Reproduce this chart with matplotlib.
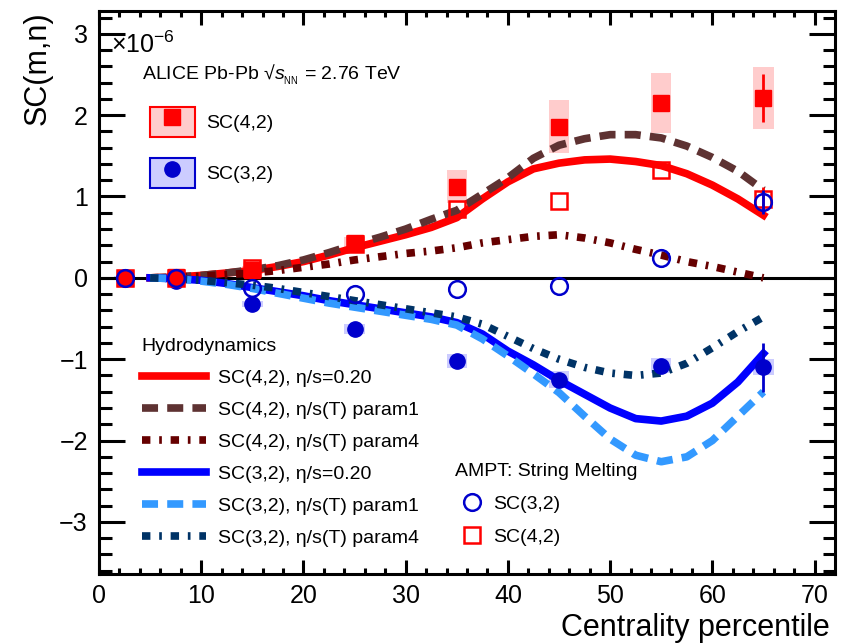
import numpy as np
import matplotlib.pyplot as plt
from matplotlib.lines import Line2D
from matplotlib.patches import Patch

plt.rcParams['font.family'] = ['Liberation Sans', 'DejaVu Sans']
plt.rcParams['mathtext.fontset'] = 'custom'
plt.rcParams['mathtext.rm'] = 'Liberation Sans'
plt.rcParams['mathtext.it'] = 'Liberation Sans:italic'

# centrality bin centres (%)
cent = [2.5, 7.5, 15, 25, 35, 45, 55, 65]

# ALICE data, in units of 1e-6
sc42 = [0.0, 0.01, 0.10, 0.43, 1.12, 1.86, 2.15, 2.21]
sc42_stat = [0.01, 0.01, 0.02, 0.03, 0.05, 0.07, 0.10, 0.30]
sc42_sys = [0.02, 0.03, 0.05, 0.07, 0.20, 0.32, 0.37, 0.38]

sc32 = [0.0, -0.04, -0.32, -0.63, -1.02, -1.25, -1.08, -1.10]
sc32_stat = [0.01, 0.01, 0.02, 0.02, 0.03, 0.04, 0.06, 0.30]
sc32_sys = [0.02, 0.02, 0.04, 0.06, 0.09, 0.10, 0.09, 0.10]

# AMPT string melting
ampt_cent = [2.5, 7.5, 15, 25, 35, 45, 55, 65]
ampt32 = [0.0, 0.0, -0.12, -0.20, -0.14, -0.10, 0.25, 0.93]
ampt32_err = [0, 0, 0, 0, 0, 0, 0, 0.15]
ampt42 = [0.0, 0.0, 0.12, 0.42, 0.85, 0.95, 1.32, 0.97]
ampt42_err = [0, 0, 0, 0, 0, 0, 0, 0.15]

# hydrodynamics
hydro_cent = [5, 7.5, 10, 12.5, 15, 17.5, 20, 22.5, 25, 27.5, 30, 32.5, 35,
              37.5, 40, 42.5, 45, 47.5, 50, 52.5, 55, 57.5, 60, 62.5, 65]
h42_020 = [0.0, 0.01, 0.03, 0.06, 0.09, 0.14, 0.20, 0.28, 0.37, 0.45, 0.53, 0.62, 0.74,
           0.97, 1.18, 1.34, 1.41, 1.45, 1.46, 1.43, 1.38, 1.28, 1.14, 0.97, 0.77]
h42_p1 = [0.0, 0.01, 0.03, 0.06, 0.10, 0.15, 0.22, 0.31, 0.41, 0.50, 0.60, 0.72, 0.83,
          1.03, 1.23, 1.47, 1.63, 1.71, 1.76, 1.76, 1.72, 1.62, 1.48, 1.31, 1.08]
h42_p4 = [0.0, 0.01, 0.02, 0.04, 0.06, 0.09, 0.13, 0.17, 0.22, 0.26, 0.30, 0.33, 0.37,
          0.43, 0.47, 0.51, 0.53, 0.49, 0.43, 0.35, 0.28, 0.20, 0.14, 0.07, 0.0]
h32_020 = [0.0, -0.01, -0.03, -0.07, -0.12, -0.17, -0.22, -0.28, -0.33, -0.38, -0.43, -0.48, -0.55,
           -0.69, -0.90, -1.07, -1.26, -1.43, -1.60, -1.73, -1.76, -1.70, -1.54, -1.28, -0.93]
h32_p1 = [0.0, -0.01, -0.04, -0.08, -0.13, -0.19, -0.25, -0.31, -0.36, -0.41, -0.46, -0.51, -0.58,
          -0.75, -0.96, -1.18, -1.41, -1.70, -1.98, -2.18, -2.26, -2.20, -2.00, -1.70, -1.40]
h32_p4 = [0.0, -0.01, -0.03, -0.06, -0.09, -0.13, -0.18, -0.23, -0.28, -0.33, -0.38, -0.43, -0.48,
          -0.57, -0.72, -0.87, -1.00, -1.10, -1.17, -1.20, -1.17, -1.05, -0.86, -0.66, -0.48]

fig = plt.figure(figsize=(8.44, 6.44), dpi=100)
ax = fig.add_axes([99 / 844, 1 - 574 / 644, 736 / 844, 563 / 644])

red = '#ff0000'
blue = '#0000cc'

# systematic boxes
s42 = np.array(sc42_sys)
s32 = np.array(sc32_sys)
ax.bar(cent, 2 * s42, bottom=np.array(sc42) - s42, width=2.0, color='#ffcccc', zorder=1)
ax.bar(cent, 2 * s32, bottom=np.array(sc32) - s32, width=2.0, color='#ccccff', zorder=1)

ax.axhline(0, color='black', lw=2.2, zorder=2)

lw = 5.5
dash = (2.1, 1.2)
dashdot = (1.1, 1.15, 0.35, 1.15)
l1, = ax.plot(hydro_cent, h42_020, color=red, lw=lw, zorder=3)
l2, = ax.plot(hydro_cent, h42_p1, color='#5e3232', lw=lw, dashes=dash, zorder=3)
l3, = ax.plot(hydro_cent, h42_p4, color='#660000', lw=lw, dashes=dashdot, zorder=3)
l4, = ax.plot(hydro_cent, h32_020, color='#0000ff', lw=lw, zorder=3)
l5, = ax.plot(hydro_cent, h32_p1, color='#3399ff', lw=lw, dashes=dash, zorder=3)
l6, = ax.plot(hydro_cent, h32_p4, color='#003366', lw=lw, dashes=dashdot, zorder=3)

ax.errorbar(cent, sc32, yerr=sc32_stat, fmt='o', color=blue, ms=11, elinewidth=2,
            capsize=0, zorder=4)
ax.errorbar(cent, sc42, yerr=sc42_stat, fmt='s', color=red, ms=11, elinewidth=2,
            capsize=0, zorder=5)
ax.errorbar(ampt_cent, ampt42, yerr=ampt42_err, fmt='s', mfc='none', mec=red, mew=1.8,
            color=red, ms=12, elinewidth=2, capsize=0, zorder=6)
ax.errorbar(ampt_cent, ampt32, yerr=ampt32_err, fmt='o', mfc='none', mec=blue, mew=1.8,
            color=blue, ms=12, elinewidth=2, capsize=0, zorder=7)

ax.set_xlim(0, 72)
ax.set_ylim(-3.64, 3.28)
ax.set_xticks(np.arange(0, 71, 10))
ax.set_xticks(np.arange(0, 72, 2), minor=True)
ax.set_yticks(np.arange(-3, 4, 1))
ax.set_yticks(np.arange(-3.6, 3.3, 0.2), minor=True)
ax.tick_params(axis='both', which='both', direction='in', width=2.2,
               top=True, right=True, labelsize=18)
ax.tick_params(axis='x', which='major', length=10, pad=7)
ax.tick_params(axis='x', which='minor', length=4.5)
ax.tick_params(axis='y', which='major', length=19, pad=8)
ax.tick_params(axis='y', which='minor', length=9)
for sp in ax.spines.values():
    sp.set_linewidth(2.2)

ax.set_xlabel('Centrality percentile', fontsize=22, loc='right')
ax.xaxis.set_label_coords(0.993, -0.069)
ax.text(-0.083, 1.0, 'SC(m,n)', rotation=90, ha='center', va='top',
        fontsize=22, transform=ax.transAxes)

ax.text(0.016, 0.9254, '×10$^{-6}$', fontsize=18, va='baseline',
        transform=ax.transAxes)
ax.text(0.0584, 0.8774, r'ALICE Pb-Pb √$s_{_{\rm NN}}$ = 2.76 TeV', fontsize=14,
        va='baseline', transform=ax.transAxes)

# data legend
h42 = (Patch(facecolor='#ffcccc', edgecolor=red, lw=1.5),
       Line2D([], [], marker='s', color=red, ls='none', ms=11))
h32 = (Patch(facecolor='#ccccff', edgecolor=blue, lw=1.5),
       Line2D([], [], marker='o', color=blue, ls='none', ms=11))
leg1 = ax.legend([h42, h32], ['SC(4,2)', 'SC(3,2)'], loc='upper left',
                 bbox_to_anchor=(0.069, 0.830), frameon=False, fontsize=14,
                 handlelength=2.3, handleheight=2.0, handletextpad=0.6,
                 labelspacing=1.1, borderpad=0, borderaxespad=0)
ax.add_artist(leg1)

leg2 = ax.legend([l1, l2, l3, l4, l5, l6],
                 ['SC(4,2), η/s=0.20', 'SC(4,2), η/s(T) param1', 'SC(4,2), η/s(T) param4',
                  'SC(3,2), η/s=0.20', 'SC(3,2), η/s(T) param1', 'SC(3,2), η/s(T) param4'],
                 title='Hydrodynamics', title_fontsize=14, alignment='left',
                 loc='upper left', bbox_to_anchor=(0.058, 0.420), frameon=False,
                 fontsize=14, handlelength=3.3, handletextpad=0.6, labelspacing=0.74,
                 borderpad=0, borderaxespad=0)
ax.add_artist(leg2)

a32 = Line2D([], [], marker='o', mfc='none', mec=blue, mew=1.8, ls='none', ms=12)
a42 = Line2D([], [], marker='s', mfc='none', mec=red, mew=1.8, ls='none', ms=12)
ax.legend([a32, a42], ['SC(3,2)', 'SC(4,2)'], title='AMPT: String Melting',
          title_fontsize=14, alignment='left', loc='upper left',
          bbox_to_anchor=(0.4837, 0.197), frameon=False, fontsize=14,
          handlelength=1.75, handletextpad=0.2, labelspacing=0.78,
          borderpad=0, borderaxespad=0)

fig.savefig('out.png', dpi=100)
